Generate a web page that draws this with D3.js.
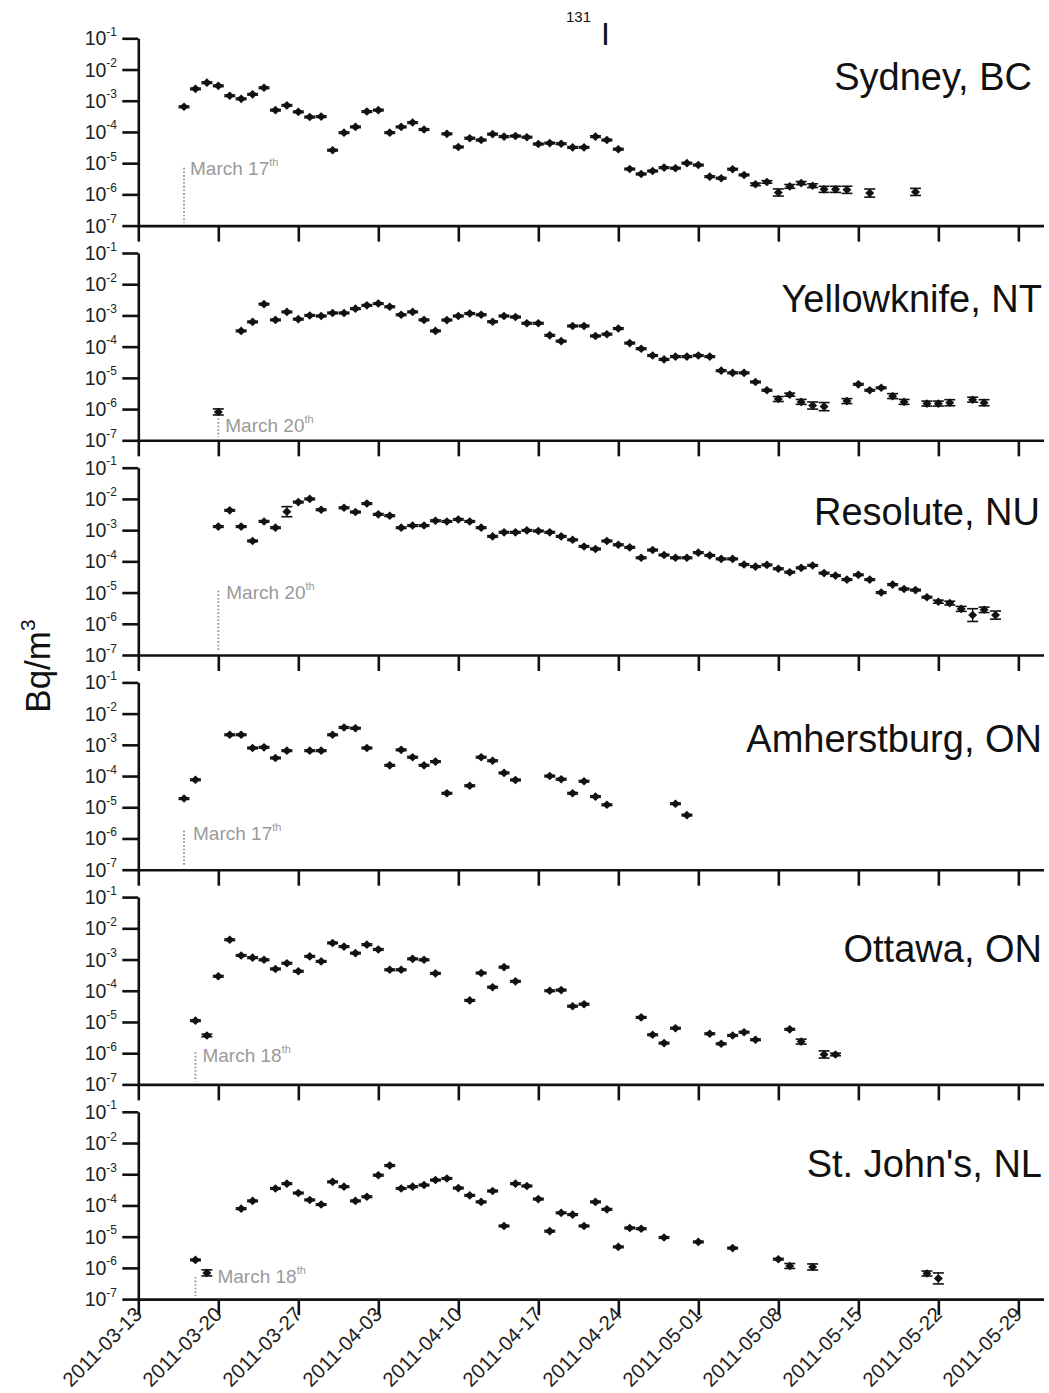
<!DOCTYPE html>
<html>
<head>
<meta charset="utf-8">
<script src="https://cdn.jsdelivr.net/npm/d3@7"></script>
<style>
  html, body { margin: 0; padding: 0; background: #fff; }
  svg { display: block; }
  text { font-family: "Liberation Sans", Arial, Helvetica, sans-serif; }
</style>
</head>
<body>
<svg id="chart" width="1049" height="1393"></svg>
<script>
// 131I activity concentration (Bq/m3) at six Canadian monitoring stations.
// Each entry: [sampling date, value, optional multiplicative uncertainty factor]
const stations = ["Sydney, BC", "Yellowknife, NT", "Resolute, NU", "Amherstburg, ON", "Ottawa, ON", "St. John's, NL"];

const sydney = [
  ["2011-03-17",6.4e-4],["2011-03-18",2.4e-3],["2011-03-19",3.8e-3],["2011-03-20",3.0e-3],["2011-03-21",1.45e-3],
  ["2011-03-22",1.15e-3],["2011-03-23",1.6e-3],["2011-03-24",2.6e-3],["2011-03-25",5.0e-4],["2011-03-26",7.1e-4],
  ["2011-03-27",4.4e-4],["2011-03-28",3.0e-4],["2011-03-29",3.1e-4],["2011-03-30",2.6e-5],["2011-03-31",9.5e-5],
  ["2011-04-01",1.45e-4],["2011-04-02",4.5e-4],["2011-04-03",5.0e-4],["2011-04-04",9.5e-5],["2011-04-05",1.45e-4],
  ["2011-04-06",2.0e-4],["2011-04-07",1.2e-4],["2011-04-09",8.7e-5],["2011-04-10",3.3e-5],["2011-04-11",6.3e-5],
  ["2011-04-12",5.5e-5],["2011-04-13",8.5e-5],["2011-04-14",7.1e-5],["2011-04-15",7.4e-5],["2011-04-16",6.8e-5],
  ["2011-04-17",4.1e-5],["2011-04-18",4.4e-5],["2011-04-19",4.2e-5],["2011-04-20",3.2e-5],["2011-04-21",3.2e-5],
  ["2011-04-22",7.1e-5],["2011-04-23",5.5e-5],["2011-04-24",2.8e-5],["2011-04-25",6.5e-6],["2011-04-26",4.5e-6],
  ["2011-04-27",5.6e-6],["2011-04-28",7.2e-6],["2011-04-29",6.9e-6],["2011-04-30",1.0e-5],["2011-05-01",8.7e-6],
  ["2011-05-02",3.7e-6],["2011-05-03",3.3e-6],["2011-05-04",6.4e-6],["2011-05-05",4.2e-6],["2011-05-06",2.1e-6,1.1],
  ["2011-05-07",2.5e-6,1.1],["2011-05-08",1.15e-6,1.3],["2011-05-09",1.8e-6,1.15],["2011-05-10",2.3e-6,1.12],
  ["2011-05-11",1.9e-6,1.15],["2011-05-12",1.45e-6,1.25],["2011-05-13",1.45e-6,1.25],["2011-05-14",1.4e-6,1.3],
  ["2011-05-16",1.1e-6,1.35],["2011-05-20",1.2e-6,1.3]
];

const yellowknife = [
  ["2011-03-20",8.1e-7,1.25],["2011-03-22",3.2e-4],["2011-03-23",6.2e-4],["2011-03-24",2.3e-3],["2011-03-25",7.2e-4],
  ["2011-03-26",1.3e-3],["2011-03-27",7.6e-4],["2011-03-28",1.0e-3],["2011-03-29",9.6e-4],["2011-03-30",1.2e-3],
  ["2011-03-31",1.2e-3],["2011-04-01",1.65e-3],["2011-04-02",2.1e-3],["2011-04-03",2.4e-3],["2011-04-04",1.9e-3],
  ["2011-04-05",1.05e-3],["2011-04-06",1.3e-3],["2011-04-07",7.2e-4],["2011-04-08",3.2e-4],["2011-04-09",7.1e-4],
  ["2011-04-10",9.6e-4],["2011-04-11",1.15e-3],["2011-04-12",1.05e-3],["2011-04-13",6.3e-4],["2011-04-14",9.6e-4],
  ["2011-04-15",8.9e-4],["2011-04-16",5.6e-4],["2011-04-17",5.6e-4],["2011-04-18",2.3e-4],["2011-04-19",1.5e-4],
  ["2011-04-20",4.6e-4],["2011-04-21",4.6e-4],["2011-04-22",2.2e-4],["2011-04-23",2.5e-4],["2011-04-24",3.8e-4],
  ["2011-04-25",1.3e-4],["2011-04-26",8.6e-5],["2011-04-27",5.2e-5],["2011-04-28",3.9e-5],["2011-04-29",4.8e-5],
  ["2011-04-30",4.8e-5],["2011-05-01",5.2e-5],["2011-05-02",4.8e-5],["2011-05-03",1.7e-5],["2011-05-04",1.45e-5],
  ["2011-05-05",1.45e-5],["2011-05-06",7.4e-6],["2011-05-07",4.0e-6],["2011-05-08",2.1e-6,1.2],["2011-05-09",2.9e-6,1.12],
  ["2011-05-10",1.7e-6,1.2],["2011-05-11",1.3e-6,1.3],["2011-05-12",1.2e-6,1.35],["2011-05-14",1.8e-6,1.2],
  ["2011-05-15",6.2e-6],["2011-05-16",4.0e-6],["2011-05-17",4.8e-6],["2011-05-18",2.6e-6,1.2],["2011-05-19",1.7e-6,1.2],
  ["2011-05-21",1.5e-6,1.2],["2011-05-22",1.5e-6,1.2],["2011-05-23",1.6e-6,1.25],["2011-05-25",2.0e-6,1.2],
  ["2011-05-26",1.6e-6,1.25]
];

const resolute = [
  ["2011-03-20",1.3e-3],["2011-03-21",4.3e-3],["2011-03-22",1.3e-3],["2011-03-23",4.5e-4],["2011-03-24",1.9e-3],
  ["2011-03-25",1.2e-3],["2011-03-26",3.9e-3,1.45],["2011-03-27",7.9e-3],["2011-03-28",1.0e-2],["2011-03-29",4.5e-3],
  ["2011-03-31",5.2e-3],["2011-04-01",3.8e-3],["2011-04-02",7.1e-3],["2011-04-03",3.2e-3],["2011-04-04",2.9e-3],
  ["2011-04-05",1.2e-3],["2011-04-06",1.4e-3],["2011-04-07",1.4e-3],["2011-04-08",2.0e-3],["2011-04-09",1.9e-3],
  ["2011-04-10",2.2e-3],["2011-04-11",1.9e-3],["2011-04-12",1.2e-3],["2011-04-13",6.3e-4],["2011-04-14",8.5e-4],
  ["2011-04-15",8.5e-4],["2011-04-16",9.8e-4],["2011-04-17",9.4e-4],["2011-04-18",8.5e-4],["2011-04-19",6.3e-4],
  ["2011-04-20",4.9e-4],["2011-04-21",3.0e-4],["2011-04-22",2.5e-4],["2011-04-23",4.5e-4],["2011-04-24",3.4e-4],
  ["2011-04-25",2.8e-4],["2011-04-26",1.3e-4],["2011-04-27",2.3e-4],["2011-04-28",1.6e-4],["2011-04-29",1.3e-4],
  ["2011-04-30",1.3e-4],["2011-05-01",1.9e-4],["2011-05-02",1.55e-4],["2011-05-03",1.2e-4],["2011-05-04",1.2e-4],
  ["2011-05-05",7.9e-5],["2011-05-06",6.8e-5],["2011-05-07",7.7e-5],["2011-05-08",5.8e-5],["2011-05-09",4.5e-5],
  ["2011-05-10",6.2e-5],["2011-05-11",7.4e-5],["2011-05-12",4.2e-5],["2011-05-13",3.5e-5],["2011-05-14",2.6e-5],
  ["2011-05-15",3.7e-5],["2011-05-16",2.6e-5],["2011-05-17",1.0e-5],["2011-05-18",1.8e-5],["2011-05-19",1.3e-5],
  ["2011-05-20",1.2e-5],["2011-05-21",7.1e-6],["2011-05-22",5.1e-6,1.12],["2011-05-23",4.6e-6,1.15],
  ["2011-05-24",3.0e-6,1.2],["2011-05-25",1.9e-6,1.6],["2011-05-26",2.8e-6,1.22],["2011-05-27",1.9e-6,1.35]
];

const amherstburg = [
  ["2011-03-17",1.9e-5],["2011-03-18",7.6e-5],["2011-03-21",2.1e-3],["2011-03-22",2.1e-3],["2011-03-23",7.9e-4],
  ["2011-03-24",8.3e-4],["2011-03-25",3.8e-4],["2011-03-26",6.5e-4],["2011-03-28",6.5e-4],["2011-03-29",6.5e-4],
  ["2011-03-30",2.1e-3],["2011-03-31",3.6e-3],["2011-04-01",3.4e-3],["2011-04-02",7.9e-4],["2011-04-04",2.2e-4],
  ["2011-04-05",6.9e-4],["2011-04-06",4.0e-4],["2011-04-07",2.2e-4],["2011-04-08",2.9e-4],["2011-04-09",2.8e-5],
  ["2011-04-11",4.9e-5],["2011-04-12",4.0e-4],["2011-04-13",3.1e-4],["2011-04-14",1.26e-4],["2011-04-15",7.5e-5],
  ["2011-04-18",1.0e-4],["2011-04-19",7.9e-5],["2011-04-20",2.8e-5],["2011-04-21",6.8e-5],["2011-04-22",2.2e-5],
  ["2011-04-23",1.2e-5],["2011-04-29",1.3e-5],["2011-04-30",5.6e-6]
];

const ottawa = [
  ["2011-03-18",1.1e-5],["2011-03-19",3.7e-6,1.1],["2011-03-20",2.9e-4],["2011-03-21",4.3e-3],["2011-03-22",1.35e-3],
  ["2011-03-23",1.15e-3],["2011-03-24",9.8e-4],["2011-03-25",5.0e-4],["2011-03-26",7.6e-4],["2011-03-27",4.2e-4],
  ["2011-03-28",1.26e-3],["2011-03-29",8.7e-4],["2011-03-30",3.4e-3],["2011-03-31",2.6e-3],["2011-04-01",1.6e-3],
  ["2011-04-02",3.0e-3],["2011-04-03",2.1e-3],["2011-04-04",4.7e-4],["2011-04-05",4.7e-4],["2011-04-06",1.05e-3],
  ["2011-04-07",9.8e-4],["2011-04-08",3.6e-4],["2011-04-11",4.9e-5],["2011-04-12",3.7e-4],["2011-04-13",1.3e-4],
  ["2011-04-14",5.7e-4],["2011-04-15",2.0e-4],["2011-04-18",1.0e-4],["2011-04-19",1.05e-4],["2011-04-20",3.2e-5],
  ["2011-04-21",3.7e-5],["2011-04-26",1.4e-5],["2011-04-27",3.9e-6],["2011-04-28",2.1e-6],["2011-04-29",6.3e-6],
  ["2011-05-02",4.2e-6],["2011-05-03",2.0e-6],["2011-05-04",3.7e-6],["2011-05-05",4.7e-6],["2011-05-06",2.7e-6],
  ["2011-05-09",5.8e-6],["2011-05-10",2.35e-6,1.2],["2011-05-12",9.1e-7,1.3],["2011-05-13",9.1e-7,1.1]
];

const stjohns = [
  ["2011-03-18",1.8e-6],["2011-03-19",6.9e-7,1.25],["2011-03-22",7.9e-5],["2011-03-23",1.4e-4],["2011-03-25",3.5e-4],
  ["2011-03-26",5.0e-4],["2011-03-27",2.5e-4],["2011-03-28",1.5e-4],["2011-03-29",1.07e-4],["2011-03-30",5.7e-4],
  ["2011-03-31",4.0e-4],["2011-04-01",1.4e-4],["2011-04-02",1.9e-4],["2011-04-03",9.3e-4],["2011-04-04",1.9e-3],
  ["2011-04-05",3.5e-4],["2011-04-06",4.0e-4],["2011-04-07",4.5e-4],["2011-04-08",6.5e-4],["2011-04-09",7.3e-4],
  ["2011-04-10",3.6e-4],["2011-04-11",2.1e-4],["2011-04-12",1.3e-4],["2011-04-13",2.9e-4],["2011-04-14",2.2e-5],
  ["2011-04-15",5.0e-4],["2011-04-16",4.2e-4],["2011-04-17",1.6e-4],["2011-04-18",1.5e-5],["2011-04-19",5.8e-5],
  ["2011-04-20",5.1e-5],["2011-04-21",2.2e-5],["2011-04-22",1.3e-4],["2011-04-23",7.5e-5],["2011-04-24",4.7e-6],
  ["2011-04-25",1.9e-5],["2011-04-26",1.8e-5],["2011-04-28",9.4e-6],["2011-05-01",6.8e-6],["2011-05-04",4.3e-6],
  ["2011-05-08",1.9e-6],["2011-05-09",1.15e-6,1.2],["2011-05-11",1.07e-6,1.25],["2011-05-21",6.6e-7,1.2],
  ["2011-05-22",4.6e-7,1.5]
];

const series = [sydney, yellowknife, resolute, amherstburg, ottawa, stjohns];

// First-arrival annotation for each station
const arrivalDates = ["2011-03-17", "2011-03-20", "2011-03-20", "2011-03-17", "2011-03-18", "2011-03-18"];
const arrivalText  = ["March 17", "March 20", "March 20", "March 17", "March 18", "March 18"];
const arrivalTop   = [10 ** -5.15, 10 ** -6.3, 10 ** -4.94, 10 ** -5.75, 10 ** -5.97, 10 ** -6.29];

const yTickValues = [1e-7, 1e-6, 1e-5, 1e-4, 1e-3, 1e-2, 1e-1];
const xTickLabels = ["2011-03-13", "2011-03-20", "2011-03-27", "2011-04-03", "2011-04-10", "2011-04-17",
                     "2011-04-24", "2011-05-01", "2011-05-08", "2011-05-15", "2011-05-22", "2011-05-29"];

// ---- layout ----
const panelTop0 = 38.3, panelStep = 214.7, panelH = 187.3;
const labelRight = [1032, 1042, 1040, 1042, 1042, 1042];
const labelBase  = [52, 59, 57, 70, 65, 65];
const noteDx     = [6, 7, 8, 9, 7, 22];
const noteBase   = [137, 179, 131, 157.5, 164.5, 171];
const ink = "#111";
const noteGrey = "#9a9a9a";

const parse = d3.utcParse("%Y-%m-%d");
const x = d3.scaleUtc()
  .domain([parse("2011-03-13"), new Date(Date.UTC(2011, 4, 31, 4, 48))])
  .range([138.3, 1043.5]);

const svg = d3.select("#chart");

// Title: 131I
const title = svg.append("g");
title.append("text").attr("x", 566).attr("y", 22).attr("font-size", 15).attr("fill", ink).text("131");
title.append("text").attr("x", 601).attr("y", 45).attr("font-size", 32).attr("fill", ink).text("I");

// Y-axis title
svg.append("text")
  .attr("transform", "translate(50,666) rotate(-90)")
  .attr("text-anchor", "middle")
  .attr("font-size", 35)
  .attr("fill", ink)
  .call(t => {
    t.append("tspan").text("Bq/m");
    t.append("tspan").attr("font-size", 21).attr("dy", -15).text("3");
  });

const diamond = "M0,-4.3L4.5,0L0,4.3L-4.5,0Z";

series.forEach((data, i) => {
  const top = panelTop0 + i * panelStep;
  const bottom = top + panelH;
  const y = d3.scaleLog().domain([1e-7, 1e-1]).range([bottom, top]);
  const g = svg.append("g");

  // Left axis
  const ya = g.append("g")
    .attr("transform", `translate(${x.range()[0]},0)`)
    .call(d3.axisLeft(y).tickValues(yTickValues).tickSize(16).tickSizeOuter(0).tickFormat(""));
  ya.select(".domain").attr("stroke", ink).attr("stroke-width", 2.6);
  ya.selectAll(".tick line").attr("stroke", ink).attr("stroke-width", 2.6);

  // Power-of-ten labels
  yTickValues.forEach(v => {
    const t = g.append("text")
      .attr("x", 117).attr("y", y(v) + 7)
      .attr("text-anchor", "end")
      .attr("font-size", 19.5)
      .attr("fill", "#222");
    t.append("tspan").text("10");
    t.append("tspan").attr("font-size", 12).attr("dy", -9.5).text(Math.round(Math.log10(v)));
  });

  // Bottom axis
  const xa = g.append("g")
    .attr("transform", `translate(0,${bottom})`)
    .call(d3.axisBottom(x).tickValues(xTickLabels.map(parse)).tickSize(16).tickSizeOuter(0).tickFormat(""));
  xa.select(".domain").attr("stroke", ink).attr("stroke-width", 2.6);
  xa.selectAll(".tick line").attr("stroke", ink).attr("stroke-width", 2.6);

  if (i === series.length - 1) {
    xTickLabels.forEach(s => {
      g.append("text")
        .attr("transform", `translate(${x(parse(s)) + 5},${bottom + 16.5}) rotate(-45)`)
        .attr("text-anchor", "end")
        .attr("font-size", 20.3)
        .attr("fill", "#222")
        .text(s);
    });
  }

  // Station name
  g.append("text")
    .attr("x", labelRight[i]).attr("y", top + labelBase[i])
    .attr("text-anchor", "end")
    .attr("font-size", 38)
    .attr("fill", ink)
    .text(stations[i]);

  // First-arrival marker and note
  const ax = x(parse(arrivalDates[i]));
  g.append("line")
    .attr("x1", ax).attr("x2", ax)
    .attr("y1", y(arrivalTop[i])).attr("y2", bottom - 3)
    .attr("stroke", noteGrey).attr("stroke-width", 2)
    .attr("stroke-dasharray", "1.6,2");
  const note = g.append("text")
    .attr("x", ax + noteDx[i]).attr("y", top + noteBase[i])
    .attr("font-size", 19)
    .attr("fill", noteGrey);
  note.append("tspan").text(arrivalText[i]);
  note.append("tspan").attr("font-size", 11).attr("dy", -9).text("th");

  // Measurements with uncertainty bars
  const pts = g.append("g").selectAll("g")
    .data(data.map(d => ({ date: parse(d[0]), v: d[1], f: d[2] || 1.06 })))
    .join("g")
    .attr("transform", d => `translate(${x(d.date)},0)`);

  pts.append("line")
    .attr("y1", d => y(d.v / d.f)).attr("y2", d => y(d.v * d.f))
    .attr("stroke", ink).attr("stroke-width", 1.3);
  pts.append("line")
    .attr("x1", -5.5).attr("x2", 5.5)
    .attr("y1", d => y(d.v / d.f)).attr("y2", d => y(d.v / d.f))
    .attr("stroke", ink).attr("stroke-width", 1.6);
  pts.append("line")
    .attr("x1", -5.5).attr("x2", 5.5)
    .attr("y1", d => y(d.v * d.f)).attr("y2", d => y(d.v * d.f))
    .attr("stroke", ink).attr("stroke-width", 1.6);
  pts.append("path")
    .attr("d", diamond)
    .attr("transform", d => `translate(0,${y(d.v)})`)
    .attr("fill", ink);
});
</script>
</body>
</html>
